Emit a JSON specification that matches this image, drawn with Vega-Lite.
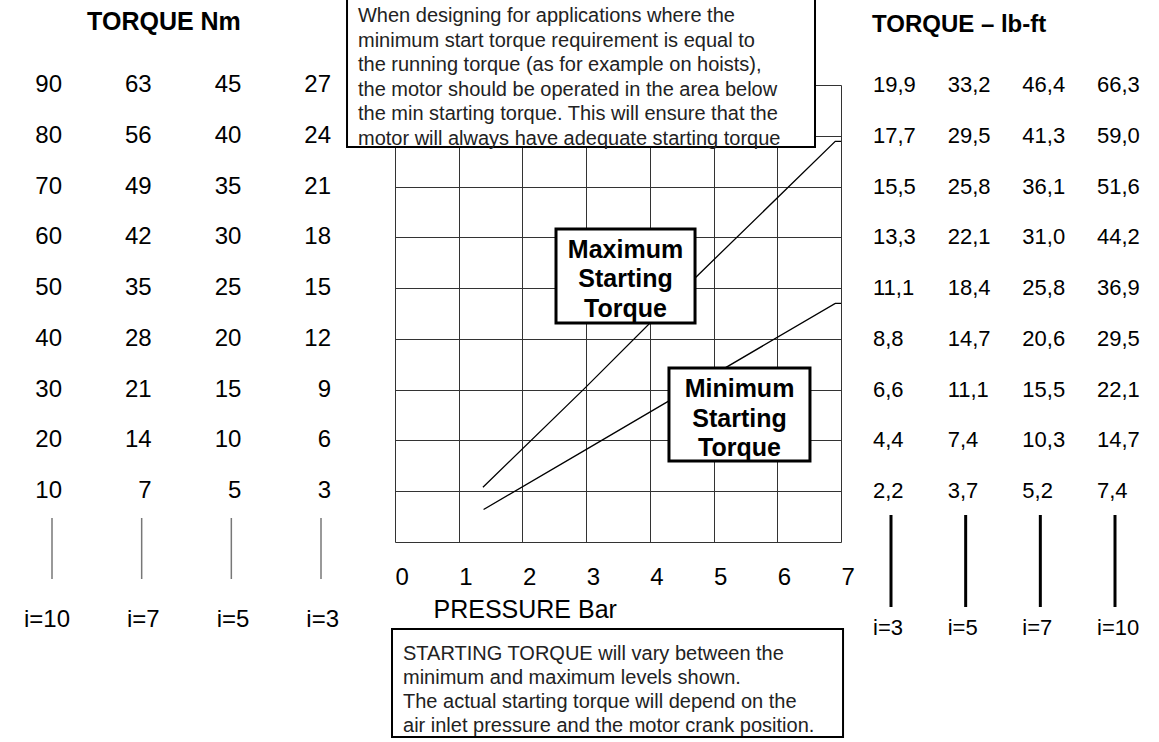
{
  "$schema": "https://vega.github.io/schema/vega-lite/v6.json",
  "width": 446,
  "height": 457,
  "autosize": {"type": "none"},
  "padding": {"left": 395, "top": 85, "right": 318, "bottom": 200},
  "background": "white",
  "config": {
    "view": {"stroke": null},
    "font": "Liberation Sans",
    "text": {"font": "Liberation Sans", "color": "#000"},
    "locale": {
      "number": {"decimal": ",", "thousands": ".", "grouping": [3], "currency": ["", ""]}
    }
  },
  "datasets": {
    "curves": [
      {"series": "Maximum", "pressure": 1.38, "torque": 1.08},
      {"series": "Maximum", "pressure": 2.98, "torque": 3.03},
      {"series": "Maximum", "pressure": 4.71, "torque": 5.2},
      {"series": "Maximum", "pressure": 6.91, "torque": 7.89},
      {"series": "Maximum", "pressure": 7.0, "torque": 7.89},
      {"series": "Minimum", "pressure": 1.39, "torque": 0.64},
      {"series": "Minimum", "pressure": 3.01, "torque": 1.83},
      {"series": "Minimum", "pressure": 4.3, "torque": 2.78},
      {"series": "Minimum", "pressure": 6.91, "torque": 4.7},
      {"series": "Minimum", "pressure": 7.0, "torque": 4.7}
    ],
    "nm": [
      {"i": "10", "level": 1, "nm": 10}, {"i": "10", "level": 2, "nm": 20}, {"i": "10", "level": 3, "nm": 30},
      {"i": "10", "level": 4, "nm": 40}, {"i": "10", "level": 5, "nm": 50}, {"i": "10", "level": 6, "nm": 60},
      {"i": "10", "level": 7, "nm": 70}, {"i": "10", "level": 8, "nm": 80}, {"i": "10", "level": 9, "nm": 90},
      {"i": "7", "level": 1, "nm": 7}, {"i": "7", "level": 2, "nm": 14}, {"i": "7", "level": 3, "nm": 21},
      {"i": "7", "level": 4, "nm": 28}, {"i": "7", "level": 5, "nm": 35}, {"i": "7", "level": 6, "nm": 42},
      {"i": "7", "level": 7, "nm": 49}, {"i": "7", "level": 8, "nm": 56}, {"i": "7", "level": 9, "nm": 63},
      {"i": "5", "level": 1, "nm": 5}, {"i": "5", "level": 2, "nm": 10}, {"i": "5", "level": 3, "nm": 15},
      {"i": "5", "level": 4, "nm": 20}, {"i": "5", "level": 5, "nm": 25}, {"i": "5", "level": 6, "nm": 30},
      {"i": "5", "level": 7, "nm": 35}, {"i": "5", "level": 8, "nm": 40}, {"i": "5", "level": 9, "nm": 45},
      {"i": "3", "level": 1, "nm": 3}, {"i": "3", "level": 2, "nm": 6}, {"i": "3", "level": 3, "nm": 9},
      {"i": "3", "level": 4, "nm": 12}, {"i": "3", "level": 5, "nm": 15}, {"i": "3", "level": 6, "nm": 18},
      {"i": "3", "level": 7, "nm": 21}, {"i": "3", "level": 8, "nm": 24}, {"i": "3", "level": 9, "nm": 27}
    ],
    "lbft": [
      {"i": "3", "level": 1, "lbft": 2.2}, {"i": "3", "level": 2, "lbft": 4.4}, {"i": "3", "level": 3, "lbft": 6.6},
      {"i": "3", "level": 4, "lbft": 8.8}, {"i": "3", "level": 5, "lbft": 11.1}, {"i": "3", "level": 6, "lbft": 13.3},
      {"i": "3", "level": 7, "lbft": 15.5}, {"i": "3", "level": 8, "lbft": 17.7}, {"i": "3", "level": 9, "lbft": 19.9},
      {"i": "5", "level": 1, "lbft": 3.7}, {"i": "5", "level": 2, "lbft": 7.4}, {"i": "5", "level": 3, "lbft": 11.1},
      {"i": "5", "level": 4, "lbft": 14.7}, {"i": "5", "level": 5, "lbft": 18.4}, {"i": "5", "level": 6, "lbft": 22.1},
      {"i": "5", "level": 7, "lbft": 25.8}, {"i": "5", "level": 8, "lbft": 29.5}, {"i": "5", "level": 9, "lbft": 33.2},
      {"i": "7", "level": 1, "lbft": 5.2}, {"i": "7", "level": 2, "lbft": 10.3}, {"i": "7", "level": 3, "lbft": 15.5},
      {"i": "7", "level": 4, "lbft": 20.6}, {"i": "7", "level": 5, "lbft": 25.8}, {"i": "7", "level": 6, "lbft": 31.0},
      {"i": "7", "level": 7, "lbft": 36.1}, {"i": "7", "level": 8, "lbft": 41.3}, {"i": "7", "level": 9, "lbft": 46.4},
      {"i": "10", "level": 1, "lbft": 7.4}, {"i": "10", "level": 2, "lbft": 14.7}, {"i": "10", "level": 3, "lbft": 22.1},
      {"i": "10", "level": 4, "lbft": 29.5}, {"i": "10", "level": 5, "lbft": 36.9}, {"i": "10", "level": 6, "lbft": 44.2},
      {"i": "10", "level": 7, "lbft": 51.6}, {"i": "10", "level": 8, "lbft": 59.0}, {"i": "10", "level": 9, "lbft": 66.3}
    ],
    "gearsLeft": [
      {"i": "10", "label": "i=10"}, {"i": "7", "label": "i=7"}, {"i": "5", "label": "i=5"}, {"i": "3", "label": "i=3"}
    ],
    "gearsRight": [
      {"i": "3", "label": "i=3"}, {"i": "5", "label": "i=5"}, {"i": "7", "label": "i=7"}, {"i": "10", "label": "i=10"}
    ]
  },
  "resolve": {"scale": {"x": "independent"}},
  "layer": [
    {
      "layer": [
        {
          "data": {"name": "curves"},
          "mark": {"type": "line", "color": "#000", "strokeWidth": 1.3},
          "encoding": {
            "x": {
              "field": "pressure", "type": "quantitative",
              "scale": {"domain": [0, 7], "nice": false, "zero": false},
              "axis": {
                "values": [0, 1, 2, 3, 4, 5, 6, 7], "format": "d",
                "grid": true, "gridColor": "#333", "gridWidth": 1, "gridOpacity": 1,
                "ticks": false, "domain": false,
                "labelFont": "Liberation Sans", "labelFontSize": 24, "labelColor": "#000",
                "labelAlign": "left", "labelPadding": 23, "labelFlush": false, "labelOverlap": false,
                "title": "PRESSURE Bar", "titleFont": "Liberation Sans", "titleFontSize": 25,
                "titleFontWeight": "normal", "titleColor": "#000", "titleAlign": "left",
                "titleAnchor": "start", "titleX": 38, "titleY": 75, "titleBaseline": "alphabetic"
              }
            },
            "y": {
              "field": "torque", "type": "quantitative",
              "scale": {"domain": [0, 9], "nice": false, "zero": false},
              "axis": {
                "values": [0, 1, 2, 3, 4, 5, 6, 7, 8, 9],
                "grid": true, "gridColor": "#333", "gridWidth": 1, "gridOpacity": 1,
                "ticks": false, "domain": false, "labels": false, "title": null
              }
            },
            "detail": {"field": "series", "type": "nominal"}
          }
        },
        {
          "data": {"values": [{}]},
          "mark": {"type": "rect", "fill": "white", "stroke": "#000", "strokeWidth": 2},
          "encoding": {
            "x": {"datum": -0.753, "type": "quantitative", "scale": {"domain": [0, 7], "nice": false, "zero": false}},
            "x2": {"datum": 6.592},
            "y": {"datum": 10.9, "type": "quantitative", "scale": {"domain": [0, 9], "nice": false, "zero": false}},
            "y2": {"datum": 7.779}
          }
        },
        {
          "data": {"values": [{}]},
          "mark": {
            "type": "text", "align": "left", "baseline": "alphabetic", "fontSize": 20, "lineHeight": 24.5,
            "color": "#222",
            "text": [
              "When designing for applications where the",
              "minimum start torque requirement is equal to",
              "the running torque (as for example on hoists),",
              "the motor should be operated in the area below",
              "the min starting torque. This will ensure that the",
              "motor will always have adequate starting torque"
            ]
          },
          "encoding": {
            "x": {"datum": -0.581, "type": "quantitative", "scale": {"domain": [0, 7], "nice": false, "zero": false}},
            "y": {"datum": 10.24, "type": "quantitative", "scale": {"domain": [0, 9], "nice": false, "zero": false}}
          }
        },
        {
          "data": {"values": [{}]},
          "mark": {"type": "rect", "fill": "white", "stroke": "#000", "strokeWidth": 3},
          "encoding": {
            "x": {"datum": 2.527, "type": "quantitative", "scale": {"domain": [0, 7], "nice": false, "zero": false}},
            "x2": {"datum": 4.709},
            "y": {"datum": 6.164, "type": "quantitative", "scale": {"domain": [0, 9], "nice": false, "zero": false}},
            "y2": {"datum": 4.313}
          }
        },
        {
          "data": {"values": [{}]},
          "mark": {
            "type": "text", "align": "center", "baseline": "alphabetic", "fontSize": 25, "fontWeight": "bold",
            "lineHeight": 29.5, "color": "#000",
            "text": ["Maximum", "Starting", "Torque"]
          },
          "encoding": {
            "x": {"datum": 3.618, "type": "quantitative", "scale": {"domain": [0, 7], "nice": false, "zero": false}},
            "y": {"datum": 5.593, "type": "quantitative", "scale": {"domain": [0, 9], "nice": false, "zero": false}}
          }
        },
        {
          "data": {"values": [{}]},
          "mark": {"type": "rect", "fill": "white", "stroke": "#000", "strokeWidth": 3},
          "encoding": {
            "x": {"datum": 4.3, "type": "quantitative", "scale": {"domain": [0, 7], "nice": false, "zero": false}},
            "x2": {"datum": 6.513},
            "y": {"datum": 3.427, "type": "quantitative", "scale": {"domain": [0, 9], "nice": false, "zero": false}},
            "y2": {"datum": 1.595}
          }
        },
        {
          "data": {"values": [{}]},
          "mark": {
            "type": "text", "align": "center", "baseline": "alphabetic", "fontSize": 25, "fontWeight": "bold",
            "lineHeight": 29.5, "color": "#000",
            "text": ["Minimum", "Starting", "Torque"]
          },
          "encoding": {
            "x": {"datum": 5.407, "type": "quantitative", "scale": {"domain": [0, 7], "nice": false, "zero": false}},
            "y": {"datum": 2.855, "type": "quantitative", "scale": {"domain": [0, 9], "nice": false, "zero": false}}
          }
        },
        {
          "data": {"values": [{}]},
          "mark": {"type": "rect", "fill": "white", "stroke": "#000", "strokeWidth": 2},
          "encoding": {
            "x": {"datum": -0.047, "type": "quantitative", "scale": {"domain": [0, 7], "nice": false, "zero": false}},
            "x2": {"datum": 7.032},
            "y": {"datum": -1.713, "type": "quantitative", "scale": {"domain": [0, 9], "nice": false, "zero": false}},
            "y2": {"datum": -3.84}
          }
        },
        {
          "data": {"values": [{}]},
          "mark": {
            "type": "text", "align": "left", "baseline": "alphabetic", "fontSize": 20, "lineHeight": 24,
            "color": "#222",
            "text": [
              "STARTING TORQUE will vary between the",
              "minimum and maximum levels shown.",
              "The actual starting torque will depend on the",
              "air inlet pressure and the motor crank position."
            ]
          },
          "encoding": {
            "x": {"datum": 0.1256, "type": "quantitative", "scale": {"domain": [0, 7], "nice": false, "zero": false}},
            "y": {"datum": -2.324, "type": "quantitative", "scale": {"domain": [0, 9], "nice": false, "zero": false}}
          }
        },
        {
          "data": {"values": [{}]},
          "mark": {
            "type": "text", "align": "center", "baseline": "alphabetic", "fontSize": 25, "fontWeight": "bold",
            "color": "#000", "text": "TORQUE Nm"
          },
          "encoding": {
            "x": {"datum": -3.626, "type": "quantitative", "scale": {"domain": [0, 7], "nice": false, "zero": false}},
            "y": {"datum": 10.083, "type": "quantitative", "scale": {"domain": [0, 9], "nice": false, "zero": false}}
          }
        },
        {
          "data": {"values": [{}]},
          "mark": {
            "type": "text", "align": "left", "baseline": "alphabetic", "fontSize": 24, "fontWeight": "bold",
            "color": "#000", "text": "TORQUE – lb-ft"
          },
          "encoding": {
            "x": {"datum": 7.487, "type": "quantitative", "scale": {"domain": [0, 7], "nice": false, "zero": false}},
            "y": {"datum": 10.043, "type": "quantitative", "scale": {"domain": [0, 9], "nice": false, "zero": false}}
          }
        }
      ]
    },
    {
      "layer": [
        {
          "data": {"name": "nm"},
          "mark": {"type": "text", "align": "right", "baseline": "middle", "fontSize": 24, "dx": 10, "color": "#000"},
          "encoding": {
            "x": {
              "field": "i", "type": "ordinal", "axis": null,
              "scale": {"type": "point", "domain": ["10", "7", "5", "3"], "range": [-343, -74], "padding": 0}
            },
            "y": {"field": "level", "type": "quantitative", "title": null, "scale": {"domain": [0, 9], "nice": false, "zero": false}},
            "text": {"field": "nm", "type": "quantitative", "format": "d"}
          }
        },
        {
          "data": {"name": "gearsLeft"},
          "mark": {"type": "rule", "color": "#777", "strokeWidth": 1.5},
          "encoding": {
            "x": {
              "field": "i", "type": "ordinal", "axis": null,
              "scale": {"type": "point", "domain": ["10", "7", "5", "3"], "range": [-343, -74], "padding": 0}
            },
            "y": {"datum": 0.473, "type": "quantitative", "scale": {"domain": [0, 9], "nice": false, "zero": false}},
            "y2": {"datum": -0.729}
          }
        },
        {
          "data": {"name": "gearsLeft"},
          "mark": {"type": "text", "align": "right", "baseline": "middle", "fontSize": 24, "dx": 18, "color": "#000"},
          "encoding": {
            "x": {
              "field": "i", "type": "ordinal", "axis": null,
              "scale": {"type": "point", "domain": ["10", "7", "5", "3"], "range": [-343, -74], "padding": 0}
            },
            "y": {"datum": -1.536, "type": "quantitative", "scale": {"domain": [0, 9], "nice": false, "zero": false}},
            "text": {"field": "label", "type": "nominal"}
          }
        }
      ]
    },
    {
      "layer": [
        {
          "data": {"name": "lbft"},
          "mark": {"type": "text", "align": "left", "baseline": "middle", "fontSize": 22, "dx": -18, "color": "#000"},
          "encoding": {
            "x": {
              "field": "i", "type": "ordinal", "axis": null,
              "scale": {"type": "point", "domain": ["3", "5", "7", "10"], "range": [496, 720], "padding": 0}
            },
            "y": {"field": "level", "type": "quantitative", "title": null, "scale": {"domain": [0, 9], "nice": false, "zero": false}},
            "text": {"field": "lbft", "type": "quantitative", "format": ".1f"}
          }
        },
        {
          "data": {"name": "gearsRight"},
          "mark": {"type": "rule", "color": "#000", "strokeWidth": 3},
          "encoding": {
            "x": {
              "field": "i", "type": "ordinal", "axis": null,
              "scale": {"type": "point", "domain": ["3", "5", "7", "10"], "range": [496, 720], "padding": 0}
            },
            "y": {"datum": 0.532, "type": "quantitative", "scale": {"domain": [0, 9], "nice": false, "zero": false}},
            "y2": {"datum": -1.28}
          }
        },
        {
          "data": {"name": "gearsRight"},
          "mark": {"type": "text", "align": "left", "baseline": "middle", "fontSize": 22, "dx": -18, "color": "#000"},
          "encoding": {
            "x": {
              "field": "i", "type": "ordinal", "axis": null,
              "scale": {"type": "point", "domain": ["3", "5", "7", "10"], "range": [496, 720], "padding": 0}
            },
            "y": {"datum": -1.693, "type": "quantitative", "scale": {"domain": [0, 9], "nice": false, "zero": false}},
            "text": {"field": "label", "type": "nominal"}
          }
        }
      ]
    }
  ]
}
